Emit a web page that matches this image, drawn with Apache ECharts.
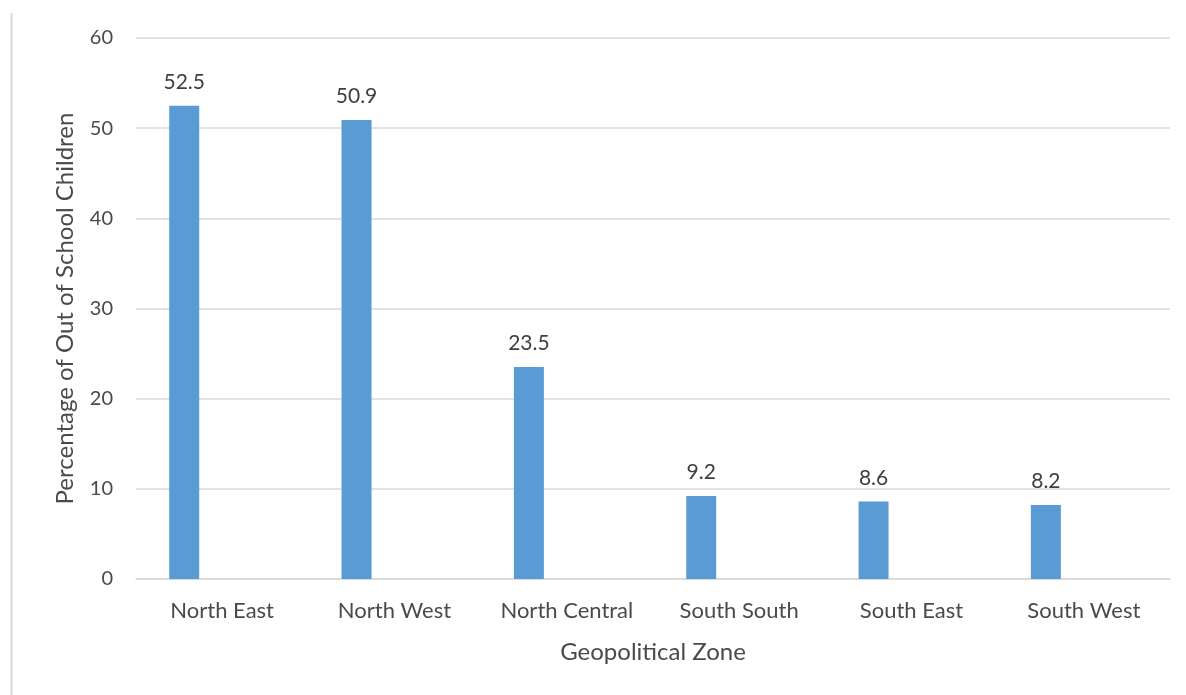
<!DOCTYPE html>
<html>
<head>
<meta charset="utf-8">
<script src="https://cdn.jsdelivr.net/npm/echarts@6/dist/echarts.min.js"></script>
<style>
  html, body { margin: 0; padding: 0; background: #fff; }
  #chart { width: 1186px; height: 695px; }
</style>
</head>
<body>
<div id="chart"></div>
<script>
// Out-of-school children by geopolitical zone (percent)
const zones = ['North East', 'North West', 'North Central', 'South South', 'South East', 'South West'];
const outOfSchool = [52.5, 50.9, 23.5, 9.2, 8.6, 8.2];
const yTicks = { min: 0, max: 60, interval: 10 };

const FONT = 'Lato, "Open Sans", sans-serif';
const TEXT = '#4a4a4a';
const chart = echarts.init(document.getElementById('chart'), null, { renderer: 'canvas' });

chart.setOption({
  animation: false,
  backgroundColor: '#ffffff',
  textStyle: { fontFamily: FONT },
  graphic: [{
    type: 'line',
    shape: { x1: 11.5, y1: 13, x2: 11.5, y2: 695 },
    style: { stroke: '#d9d9d9', lineWidth: 2 }
  }],
  grid: { left: 136, right: 16, top: 38, bottom: 116 },
  xAxis: {
    type: 'category',
    data: zones,
    name: 'Geopolitical Zone',
    nameLocation: 'middle',
    nameGap: 61,
    nameTextStyle: { color: TEXT, fontSize: 24, fontFamily: FONT },
    axisLine: { show: true, lineStyle: { color: '#d9d9d9', width: 1.5 } },
    axisTick: { show: false },
    axisLabel: { color: TEXT, fontSize: 22, margin: 21, interval: 0, hideOverlap: false, fontFamily: FONT }
  },
  yAxis: {
    type: 'value',
    min: yTicks.min,
    max: yTicks.max,
    interval: yTicks.interval,
    name: 'Percentage of Out of School Children',
    nameLocation: 'middle',
    nameGap: 59,
    nameRotate: 90,
    nameTextStyle: { color: TEXT, fontSize: 24, fontFamily: FONT },
    axisLine: { show: false },
    axisTick: { show: false },
    axisLabel: { color: TEXT, fontSize: 20, margin: 23, fontFamily: FONT },
    splitLine: { lineStyle: { color: '#d9d9d9', width: 1.5 } }
  },
  series: [
    {
      name: 'Out of School Children (%)',
      type: 'bar',
      data: outOfSchool,
      barWidth: 30,
      barGap: '153%',
      itemStyle: { color: '#5b9bd5' },
      label: {
        show: true,
        position: 'top',
        distance: 13,
        color: '#404040',
        fontSize: 21,
        fontFamily: FONT
      }
    },
    {
      name: 'Comparison',
      type: 'bar',
      data: [],
      barWidth: 30,
      itemStyle: { color: '#ed7d31' }
    }
  ]
});
</script>
</body>
</html>
